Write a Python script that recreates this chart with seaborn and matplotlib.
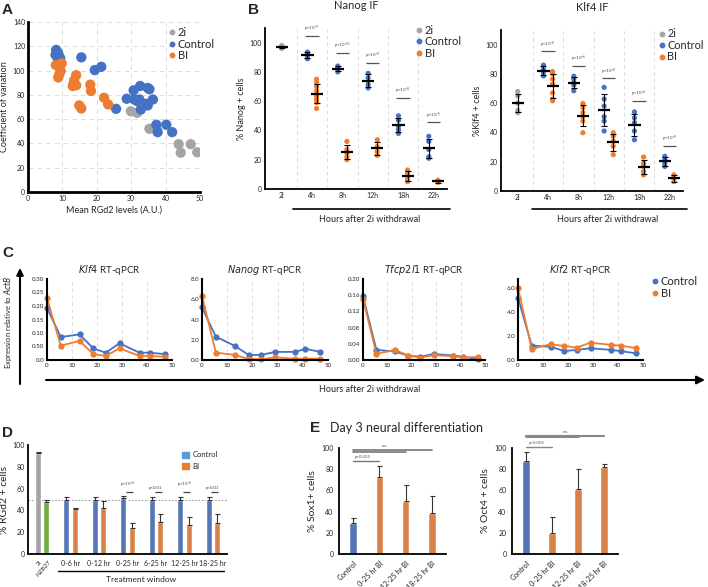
import numpy as np
import pandas as pd
import matplotlib
matplotlib.use('Agg')
import matplotlib.pyplot as plt
import seaborn as sns
from matplotlib.lines import Line2D
from matplotlib.patches import Patch

# --- CONFIGURATION ---
W, H = 708, 587
BLUE = '#4472C4'
ORANGE = '#ED7D31'
GRAY = '#A5A5A5'
GREEN = '#70AD47'
LIGHTBLUE = '#5B9BD5'

# --- A: CV vs mean RGd2 ---
a_2i_x = [29.9, 31.7, 35.3, 37.5, 43.8, 44.4, 47.3, 49.2]
a_2i_y = [66.5, 65.2, 52.1, 50.5, 39.4, 32.4, 39.4, 32.7]
a_ctrl_x = [8.2, 8.6, 8.0, 9.0, 8.5, 9.4, 8.8, 15.5, 19.4, 21.3, 25.6, 28.7, 30.7, 32.6, 34.8,
            35.3, 32.4, 31.7, 32.8, 34.4, 34.8, 36.3, 30.9, 37.3, 37.7, 40.2, 41.9]
a_ctrl_y = [117, 115, 113, 112, 111, 110, 114, 110.9, 100.4, 103.1, 68.5, 76.8, 83.7, 87.3, 85.7,
            84.6, 76.2, 74.9, 67.9, 72.6, 71.3, 76.2, 76.2, 55.4, 49.3, 55.4, 49.3]
a_bi_x = [8.1, 9.8, 9.5, 9.1, 8.8, 14.0, 13.4, 13.2, 14.0, 13.0, 18.1, 18.3, 22.1, 23.3, 14.9, 15.5]
a_bi_y = [104.5, 105.9, 99.8, 97.0, 94.3, 96.2, 92.0, 88.7, 87.9, 87.3, 88.4, 83.2, 77.6, 72.1, 71.3, 68.8]

# --- B: immunofluorescence time course ---
b_times = ['2i', '4h', '8h', '12h', '18h', '22h']
nanog_2i = [96, 97, 97.5, 98]
nanog_ctrl = [[93.5, 92.5, 91, 89], [84, 83, 82, 80], [79, 76, 71.5, 69],
              [50, 47, 43, 40.5, 38], [36, 32.5, 27, 22, 21]]
nanog_bi = [[75, 72.5, 70, 67, 64.5, 63, 61, 59, 55], [32.5, 27, 24.5, 22, 20],
            [33.6, 29, 25.6, 23], [13, 10.8, 8.5, 6.2, 5], [6, 5, 4.5]]
nanog_p = ['-7', '-11', '-9', '-8', '-5']
nanog_p_y = [104.5, 93, 86, 62, 45.5]

klf4_2i = [68, 65, 60, 55, 53.5]
klf4_ctrl = [[86, 83.4, 81, 78.6], [78.4, 76.5, 74, 72.4, 68.5], [70.8, 62.8, 58, 50.8, 47.8, 41],
             [54, 50, 46.7, 41, 35], [23.7, 21.4, 19, 16.8]]
klf4_bi = [[81.6, 80, 76.5, 73, 67, 62.8, 61.6], [59.8, 57, 53.6, 50.8, 47.8, 39.8],
           [39.8, 37.5, 34, 30.6, 24.8], [23.2, 19, 16.8, 13.3, 11], [11, 8.7, 6.4]]
klf4_p = ['-2', '-6', '-2', '-4', '-9']
klf4_p_y = [95.4, 85.7, 77, 61.6, 31]

# --- C: RT-qPCR time course ---
c_hours = [0, 5.5, 13, 18.5, 23.5, 29, 37, 41, 47]
klf4_q_ctrl = [0.193, 0.085, 0.095, 0.043, 0.027, 0.062, 0.027, 0.027, 0.022]
klf4_q_bi = [0.229, 0.053, 0.071, 0.022, 0.015, 0.043, 0.015, 0.015, 0.012]
nanog_q_ctrl = [5.2, 2.3, 1.4, 0.5, 0.5, 0.8, 0.8, 1.1, 0.8]
nanog_q_bi = [6.35, 0.73, 0.5, 0.1, 0.07, 0.26, 0.13, 0.13, 0.13]
tfcp_q_ctrl = [0.157, 0.025, 0.021, 0.011, 0.008, 0.015, 0.011, 0.008, 0.002]
tfcp_q_bi = [0.151, 0.015, 0.025, 0.011, 0.006, 0.012, 0.009, 0.007, 0.007]
klf2_q_ctrl = [5.17, 1.2, 1.1, 0.75, 0.84, 0.98, 0.84, 0.75, 0.56]
klf2_q_bi = [6.0, 0.92, 1.31, 1.17, 1.03, 1.45, 1.26, 1.2, 1.0]

# --- D: treatment windows ---
d_ref_labels = ['2i', 'N2B27']
d_ref = [93, 48]
d_ref_err = [0.5, 2]
d_groups = ['0-6 hr', '0-12 hr', '0-25 hr', '6-25 hr', '12-25 hr', '18-25 hr']
d_ctrl = [50, 50, 51, 50, 50, 50]
d_ctrl_err = [2, 2, 2, 2, 2, 2]
d_bi = [41, 42, 24, 29, 27, 28]
d_bi_err = [1, 7, 4, 8, 7, 9]
d_p = ['p<10$^{-4}$', 'p<0.01', 'p<10$^{-4}$', 'p<0.01']

# --- E: neural differentiation ---
e_labels = ['Control', '0-25 hr BI', '12-25 hr BI', '18-25 hr BI']
sox1 = [29, 73, 50, 39]
sox1_err = [5, 10, 15, 16]
oct4 = [88, 20, 61, 82]
oct4_err = [8, 15, 19, 3]

sns.set_theme(style='white')
plt.rcParams['font.family'] = ['Lato', 'DejaVu Sans']
plt.rcParams['mathtext.default'] = 'regular'
plt.rcParams['axes.edgecolor'] = 'black'

fig = plt.figure(figsize=(W / 100, H / 100), dpi=100)


def px_axes(x0, y0, x1, y1):
    return fig.add_axes([x0 / W, 1 - y1 / H, (x1 - x0) / W, (y1 - y0) / H])


def style_axes(ax, lw=1.5, size=5):
    sns.despine(ax=ax)
    for s in ['left', 'bottom']:
        ax.spines[s].set_linewidth(lw)
    ax.tick_params(labelsize=size, length=0, pad=2)


def dot_legend(target, colors, labels, anchor, fs=8, ms=3.2, **kw):
    hs = [Line2D([], [], marker='o', ls='', color=c, markersize=ms) for c in colors]
    return target.legend(hs, labels, loc='upper left', bbox_to_anchor=anchor, frameon=False, fontsize=fs,
                         handlelength=0.6, handletextpad=0.2, labelspacing=0.05, borderaxespad=0,
                         borderpad=0, **kw)


# ---------------- A ----------------
axA = px_axes(28, 22, 200, 192)
dfA = pd.concat([
    pd.DataFrame({'x': a_2i_x, 'y': a_2i_y, 'cond': '2i'}),
    pd.DataFrame({'x': a_ctrl_x, 'y': a_ctrl_y, 'cond': 'Control'}),
    pd.DataFrame({'x': a_bi_x, 'y': a_bi_y, 'cond': 'BI'}),
])
sns.scatterplot(data=dfA, x='x', y='y', hue='cond', palette={'2i': GRAY, 'Control': BLUE, 'BI': ORANGE},
                s=55, edgecolor='none', ax=axA, legend=False)
axA.set_xlim(0, 50)
axA.set_ylim(0, 140)
axA.set_xticks(range(0, 51, 10))
axA.set_yticks(range(0, 141, 20))
axA.grid(True, ls=(0, (5, 4)), color='#DDDDDD', lw=0.7)
style_axes(axA, lw=2)
axA.set_xlabel('Mean RGd2 levels (A.U.)', fontsize=6.5, labelpad=3)
axA.set_ylabel('Coefficient of variation', fontsize=6.5, labelpad=3)
dot_legend(axA, [GRAY, BLUE, ORANGE], ['2i', 'Control', 'BI'], (0.82, 0.97))


# ---------------- B ----------------
def if_panel(ax, vals_2i, ctrl, bi, pexp, py, title, ylabel):
    rows = [{'x': 0.0, 'y': v, 'cond': '2i'} for v in vals_2i]
    for i, (c, b) in enumerate(zip(ctrl, bi), start=1):
        rows += [{'x': i - 0.15, 'y': v, 'cond': 'Control'} for v in c]
        rows += [{'x': i + 0.15, 'y': v, 'cond': 'BI'} for v in b]
    df = pd.DataFrame(rows)
    sns.scatterplot(data=df, x='x', y='y', hue='cond', palette={'2i': GRAY, 'Control': BLUE, 'BI': ORANGE},
                    s=14, edgecolor='none', ax=ax, legend=False, zorder=2)
    stats = df.groupby(['x', 'cond'])['y'].agg(['mean', 'std']).reset_index()
    ax.errorbar(stats['x'], stats['mean'], yerr=stats['std'], fmt='none', ecolor='black',
                elinewidth=0.8, capsize=2, capthick=0.8, zorder=3)
    ax.hlines(stats['mean'], stats['x'] - 0.2, stats['x'] + 0.2, color='black', lw=1.6, zorder=4)
    for i, (e, yv) in enumerate(zip(pexp, py), start=1):
        ax.hlines(yv, i - 0.22, i + 0.22, color='#555555', lw=0.9)
        ax.text(i, yv + 1.2, 'p<10$^{%s}$' % e, fontsize=3.2, ha='center', va='bottom', color='#444444')
    ax.set_xlim(-0.55, 5.45)
    ax.set_ylim(0, 110)
    ax.set_xticks(range(6))
    ax.set_xticklabels(b_times)
    ax.set_yticks(range(0, 101, 20))
    for xv in np.arange(0.5, 5, 1):
        ax.axvline(xv, color='#DDDDDD', ls=(0, (4, 3)), lw=0.7, zorder=0)
    style_axes(ax, lw=1.3)
    ax.set_xlabel('')
    ax.set_ylabel(ylabel, fontsize=6.5, labelpad=3)
    ax.set_title(title, fontsize=8, pad=14)


axB1 = px_axes(265, 28, 447, 189)
if_panel(axB1, nanog_2i, nanog_ctrl, nanog_bi, nanog_p, nanog_p_y, 'Nanog IF', '% Nanog + cells')
dot_legend(axB1, [GRAY, BLUE, ORANGE], ['2i', 'Control', 'BI'], (0.83, 1.02))
axB2 = px_axes(501, 30, 683, 191)
if_panel(axB2, klf4_2i, klf4_ctrl, klf4_bi, klf4_p, klf4_p_y, 'Klf4 IF', '%Klf4 + cells')
dot_legend(axB2, [GRAY, BLUE, ORANGE], ['2i', 'Control', 'BI'], (0.865, 1.01), fs=7.8)

# ---------------- C ----------------
c_specs = [
    ((47, 279, 172, 360), klf4_q_ctrl, klf4_q_bi, 0.30,
     [0, 0.05, 0.10, 0.15, 0.20, 0.25, 0.30], ['0.0', '0.50', '0.10', '0.15', '0.20', '0.25', '0.30'], 'Klf4'),
    ((202, 279, 328, 360), nanog_q_ctrl, nanog_q_bi, 8.0,
     [0, 2, 4, 6, 8], ['0.0', '2.0', '4.0', '6.0', '8.0'], 'Nanog'),
    ((363, 279, 485, 360), tfcp_q_ctrl, tfcp_q_bi, 0.20,
     [0, 0.04, 0.08, 0.12, 0.16, 0.20], ['0.00', '0.04', '0.08', '0.12', '0.16', '0.20'], 'Tfcp2l1'),
    ((518, 279, 643, 360), klf2_q_ctrl, klf2_q_bi, 6.75,
     [0, 2, 4, 6], ['0.0', '2.0', '4.0', '6.0'], 'Klf2'),
]
for box, ctrl, bi, ytop, yt, ytl, gene in c_specs:
    ax = px_axes(*box)
    dfC = pd.concat([pd.DataFrame({'h': c_hours, 'v': ctrl, 'cond': 'Control'}),
                     pd.DataFrame({'h': c_hours, 'v': bi, 'cond': 'BI'})])
    sns.lineplot(data=dfC, x='h', y='v', hue='cond', hue_order=['Control', 'BI'],
                 palette={'Control': BLUE, 'BI': ORANGE}, marker='o', markersize=4.5,
                 markeredgecolor='none', lw=1.3, ax=ax, legend=False, clip_on=False)
    ax.set_xlim(0, 50)
    ax.set_ylim(0, ytop)
    ax.set_xticks(range(0, 51, 10))
    ax.set_yticks(yt)
    ax.set_yticklabels(ytl)
    for xv in range(10, 51, 10):
        ax.axvline(xv, color='#DDDDDD', ls=(0, (4, 3)), lw=0.7, zorder=0)
    style_axes(ax, lw=1.5, size=4.5)
    ax.set_xlabel('')
    ax.set_ylabel('')
    ax.set_title(r'$\it{%s}$ RT-qPCR' % gene, fontsize=7, pad=4)
dot_legend(fig, [BLUE, ORANGE], ['Control', 'BI'], (652 / W, 1 - 276 / H))

# ---------------- D ----------------
axD = px_axes(28, 445, 227, 554)
dfD = pd.DataFrame({
    'group': ['ref', 'ref'] + d_groups + d_groups,
    'cond': ['Control', 'BI'] + ['Control'] * 6 + ['BI'] * 6,
    'value': d_ref + d_ctrl + d_bi,
    'err': d_ref_err + d_ctrl_err + d_bi_err,
})
sns.barplot(data=dfD, x='group', y='value', hue='cond', hue_order=['Control', 'BI'],
            palette={'Control': BLUE, 'BI': ORANGE}, width=0.6, gap=0.3, errorbar=None,
            legend=False, ax=axD, zorder=2)
axD.containers[0][0].set_facecolor(GRAY)
axD.containers[1][0].set_facecolor(GREEN)
for cont, cond in zip(axD.containers, ['Control', 'BI']):
    errs = dfD[dfD['cond'] == cond]['err'].values
    xs = [p.get_x() + p.get_width() / 2 for p in cont]
    hs = [p.get_height() for p in cont]
    axD.errorbar(xs, hs, yerr=[np.zeros(len(errs)), errs], fmt='none', ecolor='#333333',
                 elinewidth=0.8, capsize=1.8, capthick=0.8, zorder=3)
axD.axhline(50, color='#888888', ls=(0, (2, 2)), lw=0.6, zorder=1)
for i, txt in enumerate(d_p, start=3):
    axD.hlines(57, i - 0.05, i + 0.2, color='#444444', lw=0.9)
    axD.text(i, 59, txt, fontsize=3.2, ha='center', va='bottom', color='#444444')
axD.set_xlim(-0.5, 6.5)
axD.set_ylim(0, 100)
axD.set_yticks(range(0, 101, 20))
axD.set_xticklabels([''] + d_groups)
style_axes(axD, lw=1.3, size=5)
axD.tick_params(axis='x', labelsize=5, pad=4)
for p, lab in zip([axD.containers[0][0], axD.containers[1][0]], d_ref_labels):
    axD.text(p.get_x() + p.get_width() / 2 + 0.05, -5, lab, rotation=50, fontsize=4.5,
             ha='right', va='top', rotation_mode='anchor')
axD.set_xlabel('')
axD.set_ylabel('% RGd2 + cells', fontsize=7.5, labelpad=3)
hD = [Patch(color=LIGHTBLUE), Patch(color=ORANGE)]
axD.legend(hD, ['Control', 'BI'], loc='upper left', bbox_to_anchor=(0.76, 0.97), frameon=False,
           fontsize=5.5, handlelength=0.9, handleheight=0.9, handletextpad=0.4, labelspacing=0.6,
           borderaxespad=0)


# ---------------- E ----------------
def e_panel(box, vals, errs, ylabel):
    ax = px_axes(*box)
    sns.barplot(x=e_labels, y=vals, hue=e_labels, palette=[BLUE, ORANGE, ORANGE, ORANGE],
                width=0.3, legend=False, ax=ax, zorder=2)
    xs = [p.get_x() + p.get_width() / 2 for p in ax.patches]
    ax.errorbar(xs, vals, yerr=[np.zeros(len(errs)), errs], fmt='none', ecolor='#333333',
                elinewidth=0.8, capsize=1.8, capthick=0.8, zorder=3)
    ax.set_xlim(-0.55, 3.55)
    ax.set_ylim(0, 100)
    ax.set_yticks(range(0, 101, 20))
    style_axes(ax, lw=1.3, size=5)
    ax.tick_params(axis='both', length=2, width=0.8, direction='out')
    ax.set_xticks(range(4))
    ax.set_xticklabels(e_labels, rotation=45, ha='right', rotation_mode='anchor', fontsize=5.3)
    ax.set_ylabel(ylabel, fontsize=7.5, labelpad=3)
    return ax


axE1 = e_panel((339, 448, 446, 554), sox1, sox1_err, '% Sox1+ cells')
for x1, yv, lw in [(3, 98, 1.2), (2, 96, 1.2), (1, 88, 1.0)]:
    axE1.plot([0, x1], [yv, yv], color='#777777', lw=lw, clip_on=False)
axE1.text(1.2, 100, 'n.s.', fontsize=3.2, ha='center', va='bottom', color='#555555')
axE1.text(0.05, 89.5, 'p<0.005', fontsize=3.2, ha='left', va='bottom', color='#555555')

axE2 = e_panel((512, 448, 618, 554), oct4, oct4_err, '% Oct4 + cells')
for x1, yv, lw in [(3, 111, 1.5), (2, 111.5, 2.2), (1, 101, 1.0)]:
    axE2.plot([0, x1], [yv, yv], color='#888888', lw=lw, clip_on=False)
axE2.text(1.55, 113.5, 'n.s.', fontsize=3.2, ha='center', va='bottom', color='#555555')
axE2.text(0.1, 102.5, 'p<0.005', fontsize=3.2, ha='left', va='bottom', color='#555555')

# ---------------- overlay: letters, arrows, shared labels ----------------
ov = fig.add_axes([0, 0, 1, 1])
ov.set_xlim(0, W)
ov.set_ylim(H, 0)
ov.axis('off')
ov.patch.set_alpha(0)
for letter, x, y in [('A', 2, 10), ('B', 248, 10), ('C', 2, 253), ('D', 2, 433), ('E', 310, 428)]:
    ov.text(x, y, letter, fontsize=11, fontweight='bold', family='Liberation Sans', va='center')
ov.text(330, 428, 'Day 3 neural differentiation', fontsize=9, va='center')
for x0, x1, xc in [(293, 450, 370), (532, 687, 608)]:
    ov.plot([x0, x1], [209, 209], color='black', lw=1.2)
    ov.text(xc, 219, 'Hours after 2i withdrawal', fontsize=6.5, ha='center', va='center')
ov.annotate('', xy=(705, 380), xytext=(46, 380),
            arrowprops=dict(arrowstyle='-|>', lw=1.5, color='black', mutation_scale=12, shrinkA=0, shrinkB=0))
ov.annotate('', xy=(20, 268), xytext=(20, 384),
            arrowprops=dict(arrowstyle='-|>', lw=1.5, color='black', mutation_scale=10, shrinkA=0, shrinkB=0))
ov.text(370, 390, 'Hours after 2i withdrawal', fontsize=6.5, ha='center', va='center')
ov.text(8, 322, r'Expression relative to $\it{ActB}$', fontsize=5.5, rotation=90, ha='center', va='center')
ov.plot([58, 224], [571, 571], color='black', lw=1.0)
ov.text(141, 579, 'Treatment window', fontsize=6, ha='center', va='center')

fig.savefig('out.png', dpi=100)
